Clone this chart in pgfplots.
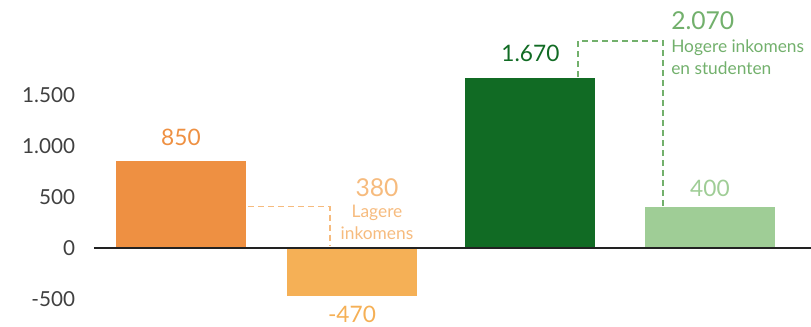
\documentclass[border=0pt]{standalone}
\usepackage{fontspec}
\setmainfont{Lato}
\usepackage{pgfplots}
\pgfplotsset{compat=1.18}
\definecolor{c1}{HTML}{EE9042}
\definecolor{c2}{HTML}{F5B056}
\definecolor{c3}{HTML}{116B24}
\definecolor{c4}{HTML}{9FCD96}
\definecolor{lorange}{HTML}{F6BB7E}
\definecolor{mgreen}{HTML}{72B06C}
\definecolor{tickc}{HTML}{404040}
\definecolor{axisc}{HTML}{222222}

\begin{document}
\begin{tikzpicture}[x=0.75pt,y=0.75pt]
\begin{axis}[
    scale only axis, width=537.75pt, height=244.5pt,
    xmin=-0.493, xmax=3.573, ymin=-765, ymax=2431,
    axis x line=none, axis y line=left,
    y axis line style={draw=none},
    major tick length=0pt,
    ytick={-500,0,500,1000,1500},
    yticklabels={-500,0,500,1.000,1.500},
    yticklabel style={font=\fontsize{15.5}{17}\selectfont, text=tickc,
        anchor=east, inner sep=0pt, xshift=-14pt},
    clip=false,
]
% bars
\addplot[ybar, bar width=0.737, bar shift=0pt, fill=c1, draw=none] coordinates {(0,850)};
\addplot[ybar, bar width=0.737, bar shift=0pt, fill=c2, draw=none] coordinates {(0.97,-470)};
\addplot[ybar, bar width=0.737, bar shift=0pt, fill=c3, draw=none] coordinates {(1.982,1670)};
\addplot[ybar, bar width=0.737, bar shift=0pt, fill=c4, draw=none] coordinates {(3,400)};
% zero line
\addplot[axisc, line width=1.5pt] coordinates {(-0.493,0) (3.573,0)};
% connectors
\addplot[lorange, line width=1.1pt, dash pattern=on 4.5pt off 3pt] coordinates {(0.38,405) (0.845,405) (0.845,15)};
\addplot[mgreen, line width=1.1pt, dash pattern=on 4.5pt off 3pt] coordinates {(2.252,1675) (2.252,2028) (2.734,2028) (2.734,405)};
% value labels
\node[text=c1, font=\fontsize{17}{19}\selectfont] at (axis cs:0,1086) {850};
\node[text=c2, font=\fontsize{17}{19}\selectfont] at (axis cs:0.97,-655) {-470};
\node[text=c3, font=\fontsize{17}{19}\selectfont] at (axis cs:1.982,1905) {1.670};
\node[text=c4, font=\fontsize{17}{19}\selectfont] at (axis cs:3,582) {400};
% group annotations
\node[text=lorange, font=\fontsize{18.5}{20}\selectfont] at (axis cs:1.112,592) {380};
\node[text=lorange, font=\fontsize{13}{16.5}\selectfont, align=center] at (axis cs:1.112,247) {Lagere\\inkomens};
\node[text=mgreen, font=\fontsize{18.5}{20}\selectfont, anchor=west, inner sep=0pt] at (axis cs:2.779,2231) {2.070};
\node[text=mgreen, font=\fontsize{13}{16}\selectfont, anchor=west, align=left, inner sep=0pt] at (axis cs:2.779,1871) {Hogere inkomens\\en studenten};
\coordinate (bl) at (rel axis cs:0,0);
\end{axis}
\pgfresetboundingbox
\path[use as bounding box] (bl) ++(-94,0) rectangle ++(811,326);
\end{tikzpicture}
\end{document}
